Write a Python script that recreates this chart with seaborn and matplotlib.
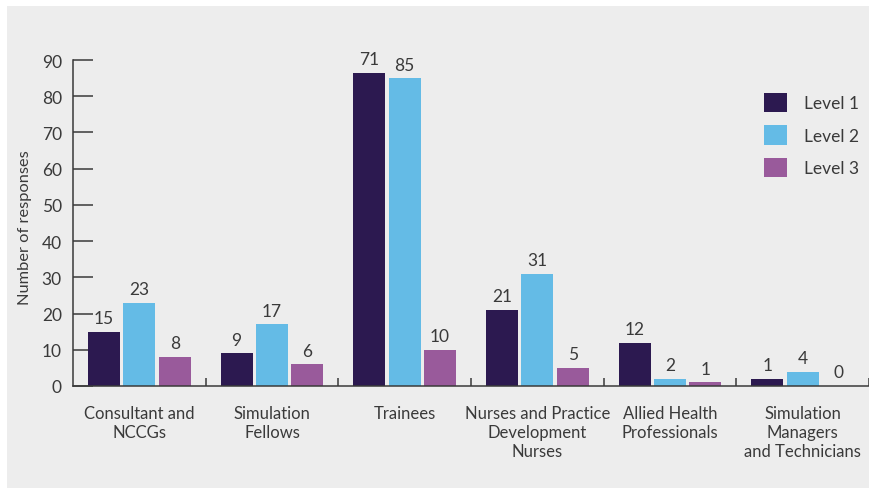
import pandas as pd
import matplotlib.pyplot as plt
import seaborn as sns
from matplotlib.patches import Patch, Rectangle

# Chart data
groups = ["Consultant and\nNCCGs", "Simulation\nFellows", "Trainees",
          "Nurses and Practice\nDevelopment\nNurses", "Allied Health\nProfessionals",
          "Simulation\nManagers\nand Technicians"]
levels = ["Level 1", "Level 2", "Level 3"]
# bar heights as drawn
level1 = [15, 9, 86.4, 21, 12, 2]
level2 = [23, 17, 85, 31, 2, 4]
level3 = [8, 6, 10, 5, 1, 0]
# numbers printed above the bars
labels1 = ["15", "9", "71", "21", "12", "1"]
labels2 = ["23", "17", "85", "31", "2", "4"]
labels3 = ["8", "6", "10", "5", "1", "0"]

colors = ["#2c1950", "#64bbe6", "#995a9b"]
text_col = "#3a3a3a"

df = pd.DataFrame({
    "group": groups * 3,
    "level": [levels[0]] * 6 + [levels[1]] * 6 + [levels[2]] * 6,
    "count": level1 + level2 + level3,
})

sns.set_style("white")
plt.rcParams["font.family"] = ["Lato", "DejaVu Sans"]
plt.rcParams["text.color"] = text_col

fig = plt.figure(figsize=(8.7, 4.89), dpi=100, facecolor="white")
fig.patches.append(Rectangle((7 / 870, 0), 1, 1 - 7 / 489, transform=fig.transFigure,
                             facecolor="#ededed", edgecolor="none", zorder=-10))
ax = fig.add_axes([73 / 870, 1 - 387 / 489, 796 / 870, 326 / 489])
ax.set_facecolor("none")

sns.barplot(data=df, x="group", y="count", hue="level", palette=colors, saturation=1,
            width=0.8, gap=0.1, linewidth=0, legend=False, ax=ax)

for cont, labs in zip(ax.containers, [labels1, labels2, labels3]):
    ax.bar_label(cont, labels=labs, padding=4, fontsize=12.5, color=text_col)

ax.set_ylim(0, 90)
ax.set_xlim(-0.5, 5.5)
ax.set_yticks(range(0, 91, 10))
ax.set_xlabel("")
ax.set_ylabel("Number of responses", fontsize=11.8, color=text_col)
ax.yaxis.set_label_coords(-0.052, 0.488)

for side in ["top", "right"]:
    ax.spines[side].set_visible(False)
for side in ["left", "bottom"]:
    ax.spines[side].set_color(text_col)
    ax.spines[side].set_linewidth(1.1)

ax.tick_params(axis="y", direction="in", length=14.5, width=1.1, color=text_col,
               labelsize=12.5, labelcolor=text_col, pad=8, left=True)
ax.tick_params(axis="x", which="major", length=0, labelsize=12, labelcolor=text_col, pad=14)
ax.set_xticks([i + 0.5 for i in range(6)], minor=True)
ax.tick_params(axis="x", which="minor", direction="in", length=5.5, width=1.1,
               color=text_col, bottom=True)

handles = [Patch(facecolor=c, edgecolor="none") for c in colors]
ax.legend(handles, levels, loc="upper left", bbox_to_anchor=(764 / 870, 1 - 94 / 489),
          bbox_transform=fig.transFigure, frameon=False, fontsize=12.5,
          handlelength=1.33, handleheight=1.33, labelspacing=0.75,
          handletextpad=0.95, borderpad=0, borderaxespad=0)

fig.savefig("out.png", dpi=100, facecolor=fig.get_facecolor())
